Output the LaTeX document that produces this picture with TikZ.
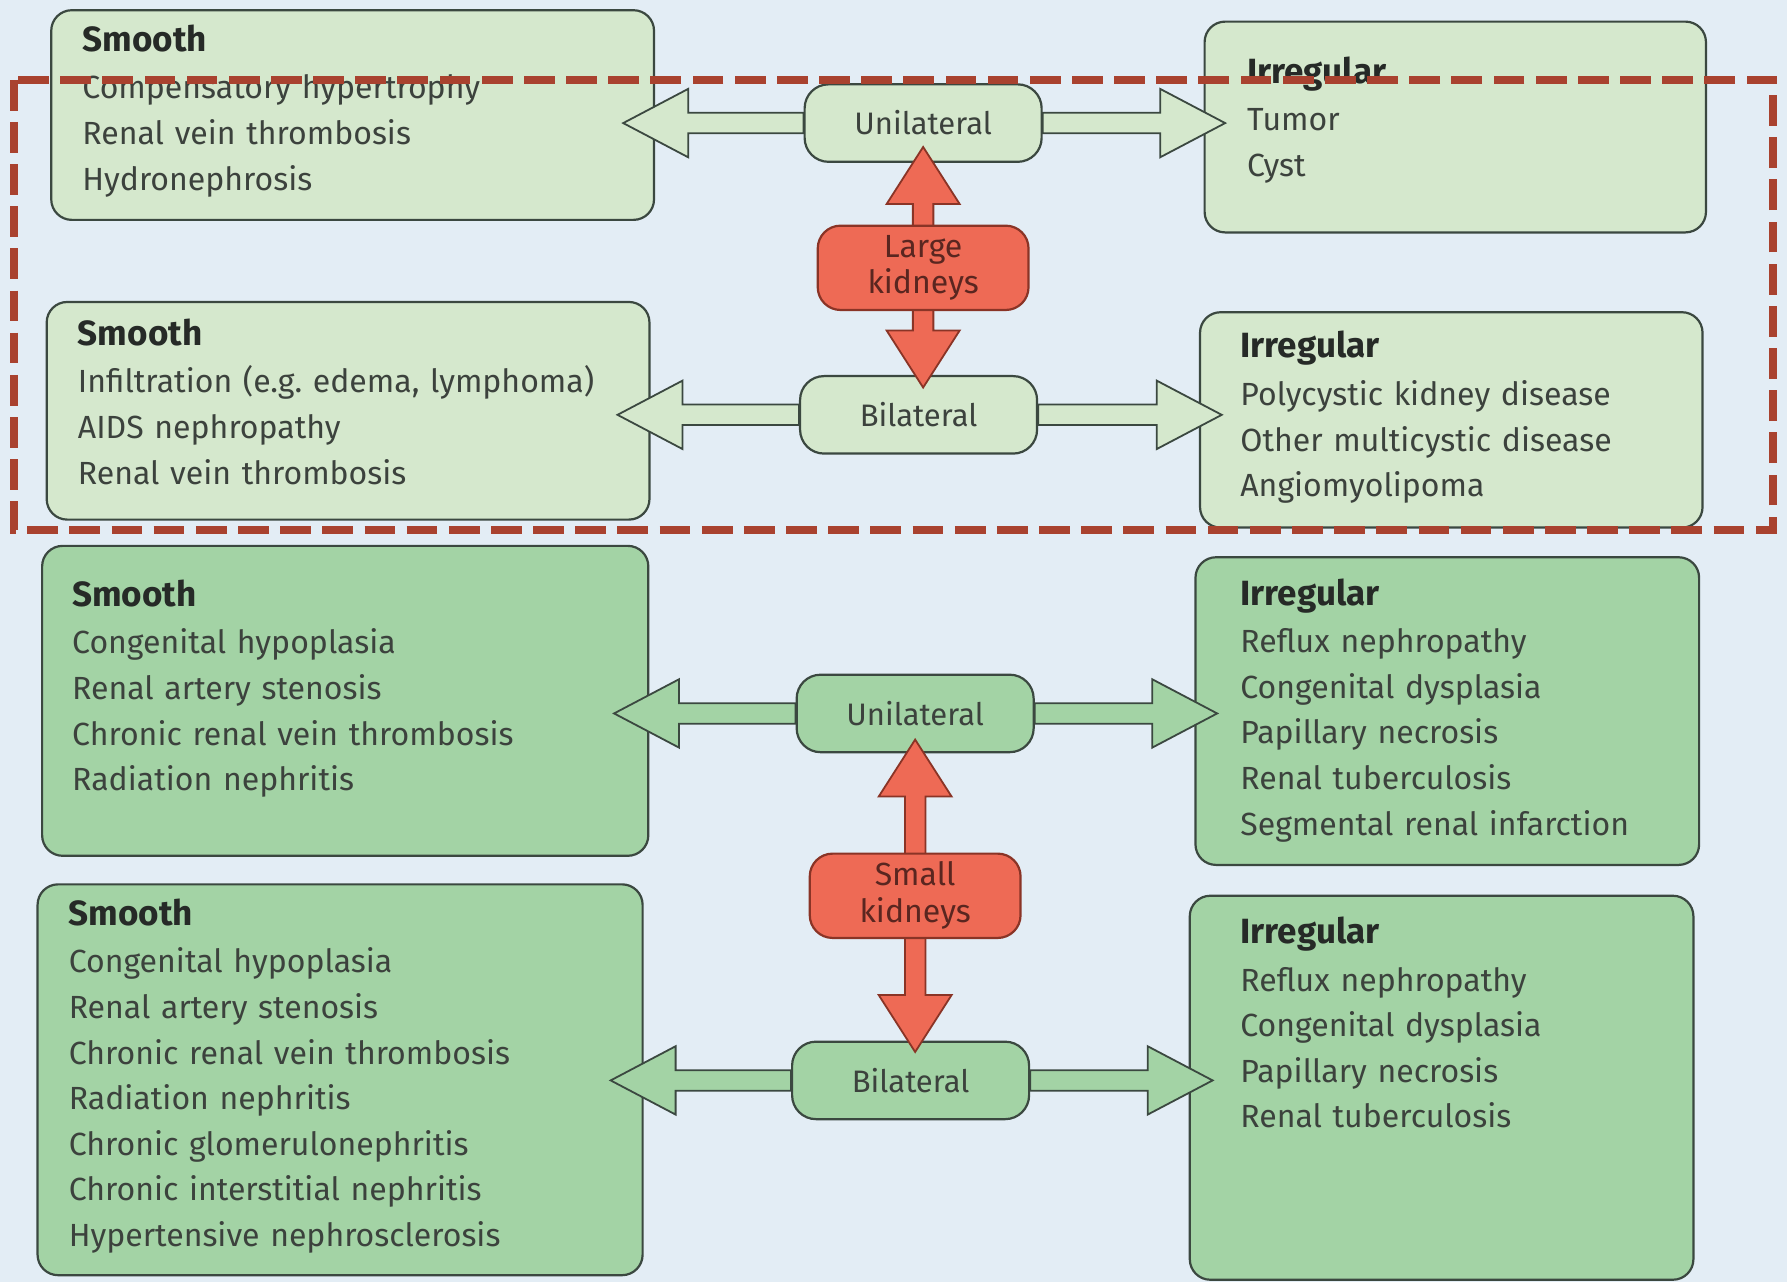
\documentclass[tikz,border=0pt]{standalone}
\usepackage{fontspec}
\setmainfont{Fira Sans}
\usepackage{xcolor}
\usepackage{tikz}
\usetikzlibrary{calc}
\definecolor{bgblue}{HTML}{E3EDF5}
\definecolor{palegreen}{HTML}{D5E8CD}
\definecolor{midgreen}{HTML}{A3D3A5}
\definecolor{kidred}{HTML}{EE6A55}
\definecolor{kidedge}{HTML}{8A3426}
\definecolor{kidtext}{HTML}{5A2620}
\definecolor{dashred}{HTML}{A9422F}
\definecolor{edgegray}{HTML}{3B4840}
\definecolor{txtgray}{HTML}{3C423D}
\definecolor{hdrgray}{HTML}{262A27}
\pgfdeclarelayer{front}
\pgfsetlayers{main,front}
\newcommand{\bodyfont}{\fontsize{16}{22.76}\selectfont}
\newcommand{\hdr}[1]{{\fontsize{17.5}{22.76}\selectfont\bfseries\color{hdrgray}#1}}
\tikzstyle{listbox}=[rectangle, rounded corners=0.36cm, draw=edgegray, line width=1.1pt,
  anchor=north west, inner sep=0pt]
\tikzstyle{listtext}=[anchor=base west, inner sep=0pt, text width=11cm, align=left,
  text=txtgray, font=\bodyfont]
\tikzstyle{side}=[rectangle, rounded corners=0.42cm, draw=edgegray, line width=1.1pt,
  minimum width=4.16cm, minimum height=1.36cm, text=txtgray, font=\fontsize{15.5}{18}\selectfont]
\tikzstyle{kidney}=[rectangle, rounded corners=0.4cm, draw=kidedge, line width=1.1pt,
  fill=kidred, minimum width=3.7cm, minimum height=1.48cm, align=center, text=kidtext,
  font=\fontsize{16}{18.4}\selectfont]
\tikzstyle{garrow}=[draw=edgegray, line width=0.9pt, line join=miter]
\tikzstyle{rarrow}=[draw=kidedge, fill=kidred, line width=0.9pt, line join=miter]
\tikzstyle{hilite}=[draw=dashred, line width=4pt, dash pattern=on 0.54cm off 0.2cm]
% block arrow: [style]{from}{tip}{head length}{head half width}
\newcommand{\blockarrow}[5][]{%
  \coordinate (bh) at ($(#3)!#4!(#2)$);
  \draw[#1] ($(#2)!0.18cm!90:(#3)$) -- ($(bh)!0.18cm!90:(#3)$)
    -- ($(bh)!#5!90:(#3)$) -- (#3) -- ($(bh)!#5!-90:(#3)$)
    -- ($(bh)!0.18cm!-90:(#3)$) -- ($(#2)!0.18cm!-90:(#3)$) -- cycle;}

\begin{document}
\begin{tikzpicture}[x=0.02cm, y=-0.02cm]
\fill[bgblue] (0,0) rectangle (1568,1125);
\useasboundingbox (0,0) rectangle (1568,1125);

% large kidneys
\node[listbox, fill=palegreen, minimum width=10.58cm, minimum height=3.68cm] (a1) at (44,8) {};
\node[listtext] (a1t) at (72,45) {\hdr{Smooth}\\[1pt] Compensatory hypertrophy\\ Renal vein thrombosis\\ Hydronephrosis};
\node[listbox, fill=palegreen, minimum width=8.8cm, minimum height=3.7cm] (a2) at (1056,18) {};
\node[listtext] (a2t) at (1094,73) {\hdr{Irregular}\\[1pt] Tumor\\ Cyst};
\node[listbox, fill=palegreen, minimum width=10.58cm, minimum height=3.82cm] (a3) at (40,264) {};
\node[listtext] (a3t) at (68,303) {\hdr{Smooth}\\[1pt] Infiltration (e.g.\ edema, lymphoma)\\ AIDS nephropathy\\ Renal vein thrombosis};
\node[listbox, fill=palegreen, minimum width=8.82cm, minimum height=3.78cm] (a4) at (1052,273) {};
\node[listtext] (a4t) at (1088,314) {\hdr{Irregular}\\[1pt] Polycystic kidney disease\\ Other multicystic disease\\ Angiomyolipoma};

\node[side, fill=palegreen] (u1) at (810,108) {Unilateral};
\node[side, fill=palegreen] (b1) at (806,364) {Bilateral};
\begin{pgfonlayer}{front}
\node[kidney] (lk) at (810,235) {Large\\kidneys};
\end{pgfonlayer}

% small kidneys
\node[listbox, fill=midgreen, minimum width=10.64cm, minimum height=5.44cm] (c1) at (36,478) {};
\node[listtext] (c1t) at (63,532) {\hdr{Smooth}\\[1pt] Congenital hypoplasia\\ Renal artery stenosis\\ Chronic renal vein thrombosis\\ Radiation nephritis};
\node[listbox, fill=midgreen, minimum width=8.84cm, minimum height=5.4cm] (c2) at (1048,488) {};
\node[listtext] (c2t) at (1088,531) {\hdr{Irregular}\\[1pt] Reflux nephropathy\\ Congenital dysplasia\\ Papillary necrosis\\ Renal tuberculosis\\ Segmental renal infarction};
\node[listbox, fill=midgreen, minimum width=10.62cm, minimum height=6.86cm] (c3) at (32,775) {};
\node[listtext] (c3t) at (60,812) {\hdr{Smooth}\\[1pt] Congenital hypoplasia\\ Renal artery stenosis\\ Chronic renal vein thrombosis\\ Radiation nephritis\\ Chronic glomerulonephritis\\ Chronic interstitial nephritis\\ Hypertensive nephrosclerosis};
\node[listbox, fill=midgreen, minimum width=8.84cm, minimum height=6.74cm] (c4) at (1043,785) {};
\node[listtext] (c4t) at (1088,828) {\hdr{Irregular}\\[1pt] Reflux nephropathy\\ Congenital dysplasia\\ Papillary necrosis\\ Renal tuberculosis};

\node[side, fill=midgreen] (u2) at (803,626) {Unilateral};
\node[side, fill=midgreen] (b2) at (799,948) {Bilateral};
\begin{pgfonlayer}{front}
\node[kidney] (sk) at (803,786) {Small\\kidneys};
\end{pgfonlayer}

% arrow tips
\coordinate (a1tip) at ($(a1.east |- u1.west)+(-28,0)$);
\coordinate (a2tip) at ($(a2.west |- u1.east)+(19,0)$);
\coordinate (a3tip) at ($(a3.east |- b1.west)+(-29,0)$);
\coordinate (a4tip) at ($(a4.west |- b1.east)+(20,0)$);
\coordinate (c1tip) at ($(c1.east |- u2.west)+(-31,0)$);
\coordinate (c2tip) at ($(c2.west |- u2.east)+(20,0)$);
\coordinate (c3tip) at ($(c3.east |- b2.west)+(-29,0)$);
\coordinate (c4tip) at ($(c4.west |- b2.east)+(21,0)$);
\coordinate (lkup) at ($(u1.south)+(0,-14)$);
\coordinate (lkdown) at ($(lk.south |- b1.north)+(0,11)$);
\coordinate (skup) at ($(u2.south)+(0,-12)$);
\coordinate (skdown) at ($(sk.south |- b2.north)+(0,10)$);

\blockarrow[garrow, fill=palegreen]{u1.west}{a1tip}{1.14cm}{0.6cm}
\blockarrow[garrow, fill=palegreen]{u1.east}{a2tip}{1.14cm}{0.6cm}
\blockarrow[garrow, fill=palegreen]{b1.west}{a3tip}{1.14cm}{0.6cm}
\blockarrow[garrow, fill=palegreen]{b1.east}{a4tip}{1.14cm}{0.6cm}
\blockarrow[garrow, fill=midgreen]{u2.west}{c1tip}{1.14cm}{0.6cm}
\blockarrow[garrow, fill=midgreen]{u2.east}{c2tip}{1.14cm}{0.6cm}
\blockarrow[garrow, fill=midgreen]{b2.west}{c3tip}{1.14cm}{0.6cm}
\blockarrow[garrow, fill=midgreen]{b2.east}{c4tip}{1.14cm}{0.6cm}
\blockarrow[rarrow]{lk.center}{lkup}{1.0cm}{0.64cm}
\blockarrow[rarrow]{lk.center}{lkdown}{1.0cm}{0.64cm}
\blockarrow[rarrow]{sk.center}{skup}{1.0cm}{0.64cm}
\blockarrow[rarrow]{sk.center}{skdown}{1.0cm}{0.64cm}

\begin{pgfonlayer}{front}
\draw[hilite] (12,70) rectangle (1556,465);
\end{pgfonlayer}
\end{tikzpicture}
\end{document}
